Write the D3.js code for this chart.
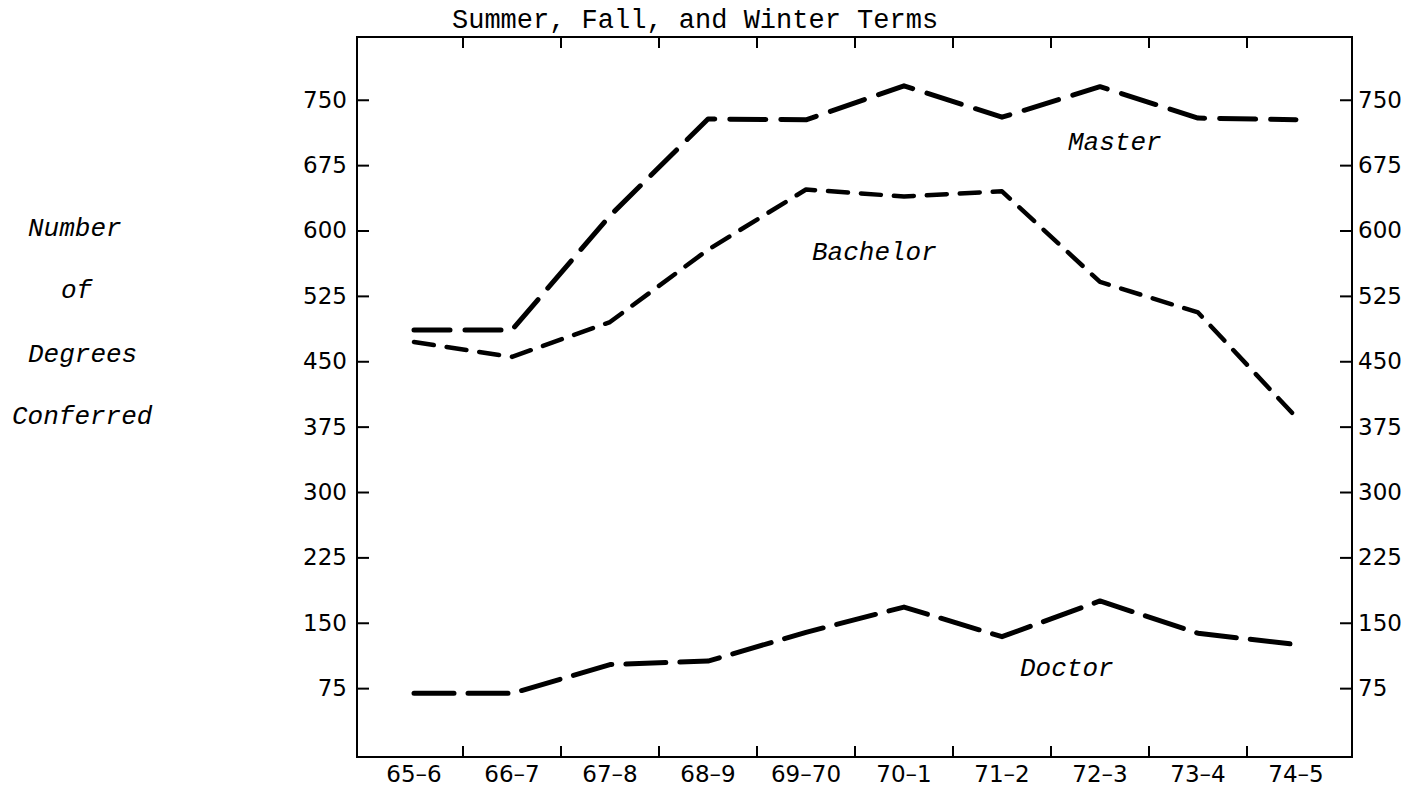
<!DOCTYPE html>
<html>
<head>
<meta charset="utf-8">
<script src="https://cdn.jsdelivr.net/npm/d3@7"></script>
<style>
  body { margin: 0; background: #fff; }
  svg { display: block; }
</style>
</head>
<body>
<div id="chart"></div>
<script>
// academic years along the bottom
var years = ["65–6", "66–7", "67–8", "68–9", "69–70", "70–1", "71–2", "72–3", "73–4", "74–5"];

// degrees conferred
var master   = [486, 486, 617, 728, 727, 766, 730, 765, 729, 727];
var bachelor = [472, 455, 495, 578, 647, 639, 645, 541, 506, 386];
var doctor   = [69, 69, 102, 106, 139, 168, 134, 175, 138, 125];

var yTicks = [75, 150, 225, 300, 375, 450, 525, 600, 675, 750];

var width = 1410, height = 789;
var frame = { left: 357, right: 1352, top: 37, bottom: 757 };

var svg = d3.select("#chart").append("svg")
    .attr("width", width)
    .attr("height", height);

// scales
var x = d3.scaleBand()
    .domain(years)
    .range([365, 1345]);
var y = d3.scaleLinear()
    .domain([-4, 822])
    .range([frame.bottom, frame.top]);

// frame
svg.append("rect")
    .attr("x", frame.left)
    .attr("y", frame.top)
    .attr("width", frame.right - frame.left)
    .attr("height", frame.bottom - frame.top)
    .attr("fill", "none")
    .attr("stroke", "#000")
    .attr("stroke-width", 2);

var tickFont = "'DejaVu Sans', sans-serif";

// left axis, ticks point inward
var left = svg.append("g")
    .attr("transform", "translate(" + frame.left + ",0)")
    .call(d3.axisLeft(y).tickValues(yTicks).tickSize(-12).tickPadding(10));

// right axis, ticks point inward
var right = svg.append("g")
    .attr("transform", "translate(" + frame.right + ",0)")
    .call(d3.axisRight(y).tickValues(yTicks).tickSize(-12).tickPadding(6));

// bottom labels sit in the middle of each band
var bottom = svg.append("g")
    .attr("transform", "translate(0," + frame.bottom + ")")
    .call(d3.axisBottom(x).tickSize(0).tickPadding(9));

[left, right, bottom].forEach(function (g) {
    g.select(".domain").remove();
    g.selectAll("line").attr("stroke", "#000").attr("stroke-width", 2);
    g.selectAll("text")
        .attr("font-family", tickFont)
        .attr("font-size", 23)
        .attr("fill", "#000");
});

// tick marks between the years, top and bottom
var bounds = years.slice(1);
svg.append("g").selectAll("line")
    .data(bounds)
    .enter().append("line")
    .attr("x1", function (d) { return x(d); })
    .attr("x2", function (d) { return x(d); })
    .attr("y1", frame.top)
    .attr("y2", frame.top + 11)
    .attr("stroke", "#000")
    .attr("stroke-width", 2);
svg.append("g").selectAll("line")
    .data(bounds)
    .enter().append("line")
    .attr("x1", function (d) { return x(d); })
    .attr("x2", function (d) { return x(d); })
    .attr("y1", frame.bottom)
    .attr("y2", frame.bottom - 11)
    .attr("stroke", "#000")
    .attr("stroke-width", 2);

// lines
var line = d3.line()
    .x(function (d, i) { return x(years[i]) + x.bandwidth() / 2; })
    .y(function (d) { return y(d); });

var series = [
    { values: master,   dash: "36,15", width: 5 },
    { values: bachelor, dash: "20,13", width: 4.5 },
    { values: doctor,   dash: "40,14", width: 5 }
];

svg.append("g").selectAll("path")
    .data(series)
    .enter().append("path")
    .attr("d", function (d) { return line(d.values); })
    .attr("fill", "none")
    .attr("stroke", "#000")
    .attr("stroke-width", function (d) { return d.width; })
    .attr("stroke-dasharray", function (d) { return d.dash; })
    .attr("stroke-linecap", "round")
    .attr("stroke-linejoin", "round");

// typewriter text
var mono = "'Liberation Mono', 'Courier New', monospace";

svg.append("text")
    .attr("x", 452)
    .attr("y", 28)
    .attr("font-family", mono)
    .attr("font-size", 27)
    .attr("fill", "#000")
    .text("Summer, Fall, and Winter Terms");

var labels = [
    { text: "Master",   x: 1068, y: 150 },
    { text: "Bachelor", x: 812,  y: 260 },
    { text: "Doctor",   x: 1020, y: 676 },
    { text: "Number",   x: 28,   y: 236 },
    { text: "of",       x: 61,   y: 298 },
    { text: "Degrees",  x: 28,   y: 362 },
    { text: "Conferred", x: 12,  y: 424 }
];

svg.append("g").selectAll("text")
    .data(labels)
    .enter().append("text")
    .attr("x", function (d) { return d.x; })
    .attr("y", function (d) { return d.y; })
    .attr("font-family", mono)
    .attr("font-style", "italic")
    .attr("font-size", 26)
    .attr("fill", "#000")
    .text(function (d) { return d.text; });
</script>
</body>
</html>
